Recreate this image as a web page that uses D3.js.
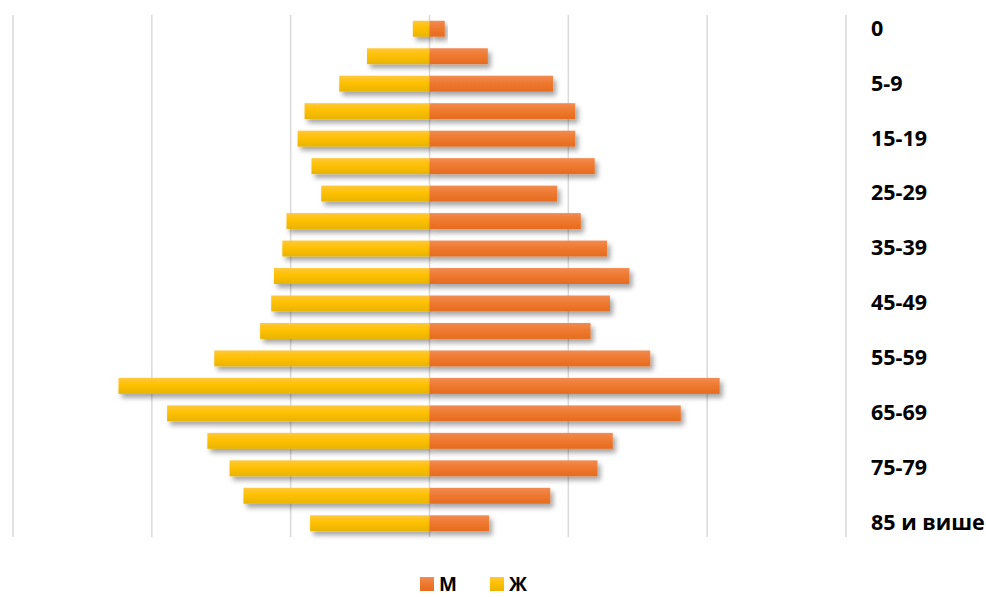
<!DOCTYPE html>
<html>
<head>
<meta charset="utf-8">
<script src="https://cdn.jsdelivr.net/npm/d3@7"></script>
<style>
  body { margin: 0; background: #fff; }
  svg { display: block; }
  .lbl text { font-family: "Open Sans", sans-serif; font-weight: 700; font-size: 21.5px; fill: #000; }
  .legend text { font-family: "Open Sans", sans-serif; font-weight: 700; font-size: 19px; fill: #000; }
</style>
</head>
<body>
<div id="chart"></div>
<script>
var width = 986;
var height = 597;
var margin = {top: 15, bottom: 60, left: 13, right: 140};

var ageGroups = ["0", "1-4", "5-9", "10-14", "15-19", "20-24", "25-29", "30-34", "35-39", "40-44",
    "45-49", "50-54", "55-59", "60-64", "65-69", "70-74", "75-79", "80-84", "85 и више"];
var male   = [11, 42, 89, 105, 105, 119, 92, 109, 128, 144, 130, 116, 159, 209, 181, 132, 121, 87, 43];
var female = [12, 45, 65, 90, 95, 85, 78, 103, 106, 112, 114, 122, 155, 224, 189, 160, 144, 134, 86];
var gridTicks = [-300, -200, -100, 0, 100, 200, 300];
var seriesNames = ["М", "Ж"];

var svg = d3.select("#chart")
    .append("svg")
        .attr("width", width)
        .attr("height", height);

var defs = svg.append("defs");

// bar gradients (lighter top, darker bottom)
function grad(id, stops) {
    var g = defs.append("linearGradient")
        .attr("id", id)
        .attr("x1", 0).attr("y1", 0).attr("x2", 0).attr("y2", 1);
    stops.forEach(function(s) {
        g.append("stop").attr("offset", s[0]).attr("stop-color", s[1]);
    });
}
grad("gMale", [["0%", "#f28b52"], ["45%", "#ee7a30"], ["100%", "#e66b1e"]]);
grad("gFemale", [["0%", "#ffc83c"], ["45%", "#ffc000"], ["100%", "#e8b400"]]);

var shadow = defs.append("filter")
    .attr("id", "shadow")
    .attr("x", "-10%").attr("y", "-30%")
    .attr("width", "130%").attr("height", "190%");
shadow.append("feDropShadow")
    .attr("dx", 3).attr("dy", 4)
    .attr("stdDeviation", 2.5)
    .attr("flood-color", "#000")
    .attr("flood-opacity", 0.35);

var xscale = d3.scaleLinear()
    .domain([-300, 300])
    .range([margin.left, width - margin.right]);

var yscale = d3.scaleBand()
    .domain(ageGroups)
    .range([margin.top, height - margin.bottom])
    .paddingInner(0.42)
    .paddingOuter(0.21);

// vertical gridlines
svg.append("g")
    .selectAll("line")
    .data(gridTicks)
    .enter().append("line")
        .attr("x1", function(d){ return xscale(d); })
        .attr("x2", function(d){ return xscale(d); })
        .attr("y1", margin.top)
        .attr("y2", height - margin.bottom)
        .style("stroke", "#d9d9d9")
        .style("stroke-width", 1.5);

// female bars (left)
svg.append("g")
    .selectAll("rect")
    .data(female)
    .enter().append("rect")
        .attr("x", function(d){ return xscale(-d); })
        .attr("y", function(d, i){ return yscale(ageGroups[i]); })
        .attr("width", function(d){ return xscale(0) - xscale(-d); })
        .attr("height", yscale.bandwidth())
        .attr("fill", "url(#gFemale)")
        .attr("filter", "url(#shadow)");

// male bars (right)
svg.append("g")
    .selectAll("rect")
    .data(male)
    .enter().append("rect")
        .attr("x", xscale(0))
        .attr("y", function(d, i){ return yscale(ageGroups[i]); })
        .attr("width", function(d){ return xscale(d) - xscale(0); })
        .attr("height", yscale.bandwidth())
        .attr("fill", "url(#gMale)")
        .attr("filter", "url(#shadow)");

// category labels on the right, every other one
var yAxis = d3.axisRight(yscale)
    .tickValues(ageGroups.filter(function(d, i){ return i % 2 === 0; }))
    .tickSize(0)
    .tickPadding(25);
var ax = svg.append("g")
    .attr("class", "lbl")
    .attr("transform", "translate(" + xscale(300) + ",0)")
    .call(yAxis);
ax.select(".domain").remove();
ax.selectAll("text").attr("font-size", null).attr("font-family", null);

// legend
var legendColours = ["url(#gMale)", "url(#gFemale)"];
var legend = svg.selectAll(".legend")
    .data(seriesNames)
    .enter().append("g")
    .attr("class", "legend")
    .attr("transform", function(d, i){
        return "translate(" + (420 + i * 70) + ",577)";
    });
legend.append("rect")
    .attr("width", 14)
    .attr("height", 14)
    .attr("fill", function(d, i){ return legendColours[i]; });
legend.append("text")
    .attr("x", 19)
    .attr("y", 7)
    .attr("dy", "0.36em")
    .text(function(d){ return d; });
</script>
</body>
</html>
